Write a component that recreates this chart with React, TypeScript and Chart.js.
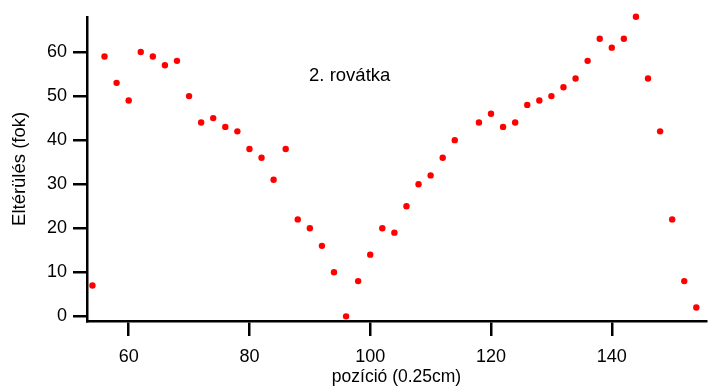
import React, { useEffect, useRef } from "react";
import { Chart, registerables } from "chart.js";

Chart.register(...registerables);

const positions = [54, 56, 58, 60, 62, 64, 66, 68, 70, 72, 74, 76, 78, 80, 82, 84, 86, 88, 90, 92, 94, 96, 98, 100, 102, 104, 106, 108, 110, 112, 114, 118, 120, 122, 124, 126, 128, 130, 132, 134, 136, 138, 140, 142, 144, 146, 148, 150, 152, 154];
const deflections = [7, 59, 53, 49, 60, 59, 57, 58, 50, 44, 45, 43, 42, 38, 36, 31, 38, 22, 20, 16, 10, 0, 8, 14, 20, 19, 25, 30, 32, 36, 40, 44, 46, 43, 44, 48, 49, 50, 52, 54, 58, 63, 61, 63, 68, 54, 42, 22, 8, 2];
const xTicks = [60, 80, 100, 120, 140];
const yTicks = [0, 10, 20, 30, 40, 50, 60];
const annotationText = "2. rovátka";
const annotationAt = { x: 96.6, y: 54.5 };
const xTitle = "pozíció (0.25cm)";
const yTitle = "Eltérülés (fok)";

const FONT = "'Liberation Sans', Arial, Helvetica, sans-serif";

export default function App() {
  const ref = useRef<HTMLCanvasElement | null>(null);
  useEffect(() => {
    document.body.style.margin = "0";
    const annot = {
      id: "annot",
      afterDraw(chart: any) {
        const { ctx, scales } = chart;
        const px = scales.x.getPixelForValue(annotationAt.x);
        const py = scales.y.getPixelForValue(annotationAt.y);
        ctx.save();
        ctx.font = `18.5px ${FONT}`;
        ctx.fillStyle = "#000";
        ctx.textAlign = "center";
        ctx.textBaseline = "middle";
        ctx.fillText(annotationText, px, py);
        ctx.restore();
      },
    };
    const chart = new Chart(ref.current!, {
      type: "scatter",
      data: {
        datasets: [
          {
            data: positions.map((x, i) => ({ x, y: deflections[i] })),
            backgroundColor: "#ff0000",
            borderColor: "#ff0000",
            pointRadius: 3.2,
            borderWidth: 0,
            clip: false,
          } as any,
        ],
      },
      options: {
        animation: false,
        responsive: false,
        maintainAspectRatio: false,
        layout: { padding: { top: 14, right: 0, left: 0, bottom: 0 } },
        plugins: { legend: { display: false }, tooltip: { enabled: false } },
        scales: {
          x: {
            type: "linear",
            min: 53.1,
            max: 155.6,
            afterBuildTicks: (s: any) => {
              s.ticks = xTicks.map((v) => ({ value: v }));
            },
            afterFit: (s: any) => {
              s.height = 67;
            },
            grid: {
              drawOnChartArea: false,
              drawTicks: true,
              tickLength: 15,
              tickColor: "#000",
              lineWidth: 2.5,
            },
            border: { display: true, color: "#000", width: 2.5 },
            ticks: {
              color: "#000",
              font: { family: FONT, size: 18 },
              padding: 10,
              maxRotation: 0,
            },
            title: {
              display: true,
              text: xTitle,
              color: "#000",
              font: { family: FONT, size: 17.5 },
              padding: { top: 0, bottom: 0 },
            },
          },
          y: {
            type: "linear",
            min: -1.06,
            max: 68,
            afterBuildTicks: (s: any) => {
              s.ticks = yTicks.map((v) => ({ value: v }));
            },
            afterFit: (s: any) => {
              s.width = 87;
            },
            grid: {
              drawOnChartArea: false,
              drawTicks: true,
              tickLength: 14,
              tickColor: "#000",
              lineWidth: 2.5,
            },
            border: { display: true, color: "#000", width: 2.5 },
            ticks: {
              color: "#000",
              font: { family: FONT, size: 18 },
              padding: 6,
            },
            title: {
              display: true,
              text: yTitle,
              color: "#000",
              font: { family: FONT, size: 18.5 },
              padding: { top: 9, bottom: 0 },
            },
          },
        },
      },
      plugins: [annot],
    });
    return () => chart.destroy();
  }, []);
  return (
    <div style={{ position: "absolute", left: 0, top: 0, width: 710, height: 388 }}>
      <canvas ref={ref} width={710} height={388} style={{ width: 710, height: 388 }} />
    </div>
  );
}
